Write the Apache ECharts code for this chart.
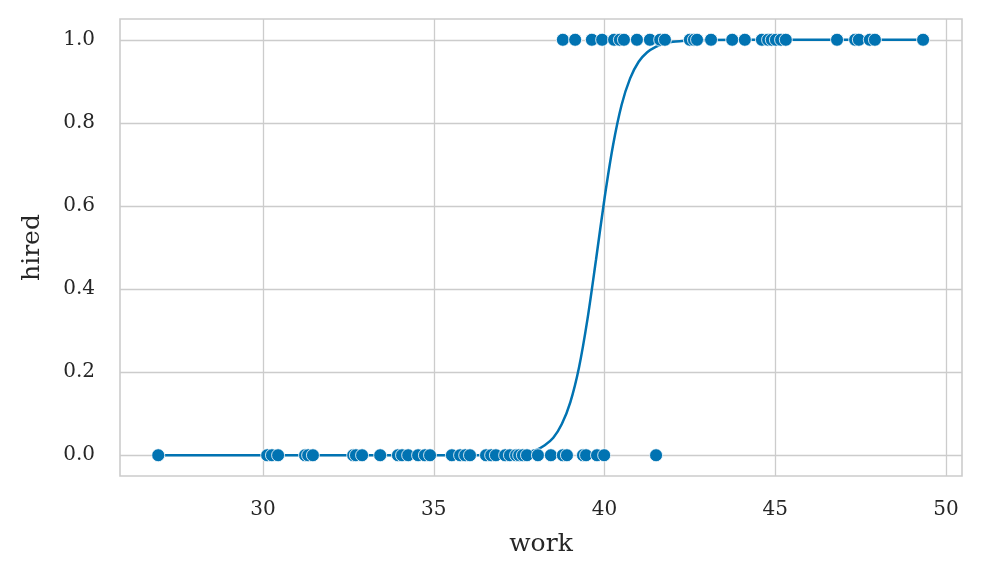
<!DOCTYPE html>
<html>
<head>
<meta charset="utf-8">
<script src="https://cdn.jsdelivr.net/npm/echarts@6/dist/echarts.min.js"></script>
<style>html,body{margin:0;padding:0;background:#fff;}#c{width:982px;height:580px;}</style>
</head>
<body>
<div id="c"></div>
<script>
// Observations with hired = 1 (work values)
const hiredWork = [38.78, 39.14, 39.63, 39.93, 40.28, 40.45, 40.57, 40.95, 41.33, 41.63, 41.77,
  42.50, 42.62, 42.71, 43.12, 43.74, 44.11, 44.61, 44.79, 44.90, 45.02, 45.17, 45.31,
  46.81, 47.34, 47.45, 47.77, 47.92, 49.33];
// Observations with hired = 0 (work values)
const notHiredWork = [26.93, 30.12, 30.26, 30.44, 31.23, 31.32, 31.46, 32.64, 32.72, 32.90, 33.43,
  33.95, 34.07, 34.25, 34.54, 34.74, 34.89, 35.53, 35.77, 35.92, 36.06, 36.53, 36.68, 36.82,
  37.09, 37.23, 37.41, 37.50, 37.61, 37.73, 38.05, 38.43, 38.78, 38.90, 39.37, 39.46, 39.78,
  39.99, 41.51];
// Fitted logistic curve
const curveX = [26.93, 30, 33, 35, 36, 36.5, 37, 37.5, 38, 38.25, 38.5, 38.75, 39, 39.25, 39.5, 39.75,
  40, 40.25, 40.5, 40.75, 41, 41.25, 41.5, 41.75, 42, 42.5, 43, 45, 49.33];
const curveY = [0, 0, 0, 0, 0.0001, 0.0004, 0.0012, 0.004, 0.013, 0.024, 0.042, 0.075, 0.128, 0.21,
  0.327, 0.47, 0.618, 0.746, 0.843, 0.907, 0.947, 0.970, 0.983, 0.991, 0.995, 0.998, 0.9995, 1, 1];
const xTicks = [30, 35, 40, 45, 50];
const yTicks = [0, 0.2, 0.4, 0.6, 0.8, 1.0];

const font = 'DejaVu Serif';
const col = '#0173b2';
const pts = hiredWork.map(x => [x, 1]).concat(notHiredWork.map(x => [x, 0]));
const curve = curveX.map((x, i) => [x, curveY[i]]);

const chart = echarts.init(document.getElementById('c'), null, {renderer: 'canvas'});
chart.setOption({
  animation: false,
  backgroundColor: '#fff',
  grid: {left: 120, right: 20, top: 19, bottom: 104, show: true, borderColor: '#cccccc', borderWidth: 1.6, backgroundColor: 'transparent'},
  xAxis: {
    type: 'value', min: 25.81, max: 50.47,
    name: 'work', nameLocation: 'middle', nameGap: 56,
    nameTextStyle: {fontFamily: font, fontSize: 25, color: '#262626'},
    axisLine: {show: false},
    axisTick: {show: false, customValues: xTicks},
    axisLabel: {customValues: xTicks, fontFamily: font, fontSize: 20, color: '#262626', margin: 24},
    splitLine: {show: true, lineStyle: {color: '#cccccc', width: 1.3}}
  },
  yAxis: {
    type: 'value', min: -0.05, max: 1.05,
    name: 'hired', nameLocation: 'middle', nameGap: 75,
    nameTextStyle: {fontFamily: font, fontSize: 25, color: '#262626'},
    axisLine: {show: false},
    axisTick: {show: false, customValues: yTicks},
    axisLabel: {customValues: yTicks, fontFamily: font, fontSize: 20, color: '#262626', margin: 25,
      formatter: v => v.toFixed(1)},
    splitLine: {show: true, lineStyle: {color: '#cccccc', width: 1.3}}
  },
  series: [
    {type: 'line', data: curve, smooth: 0.3, showSymbol: false, z: 2,
      lineStyle: {color: col, width: 2.5}},
    {type: 'scatter', data: pts, symbolSize: 13, z: 3,
      itemStyle: {color: col, borderColor: '#fff', borderWidth: 0.8, opacity: 1}}
  ]
});
</script>
</body>
</html>
